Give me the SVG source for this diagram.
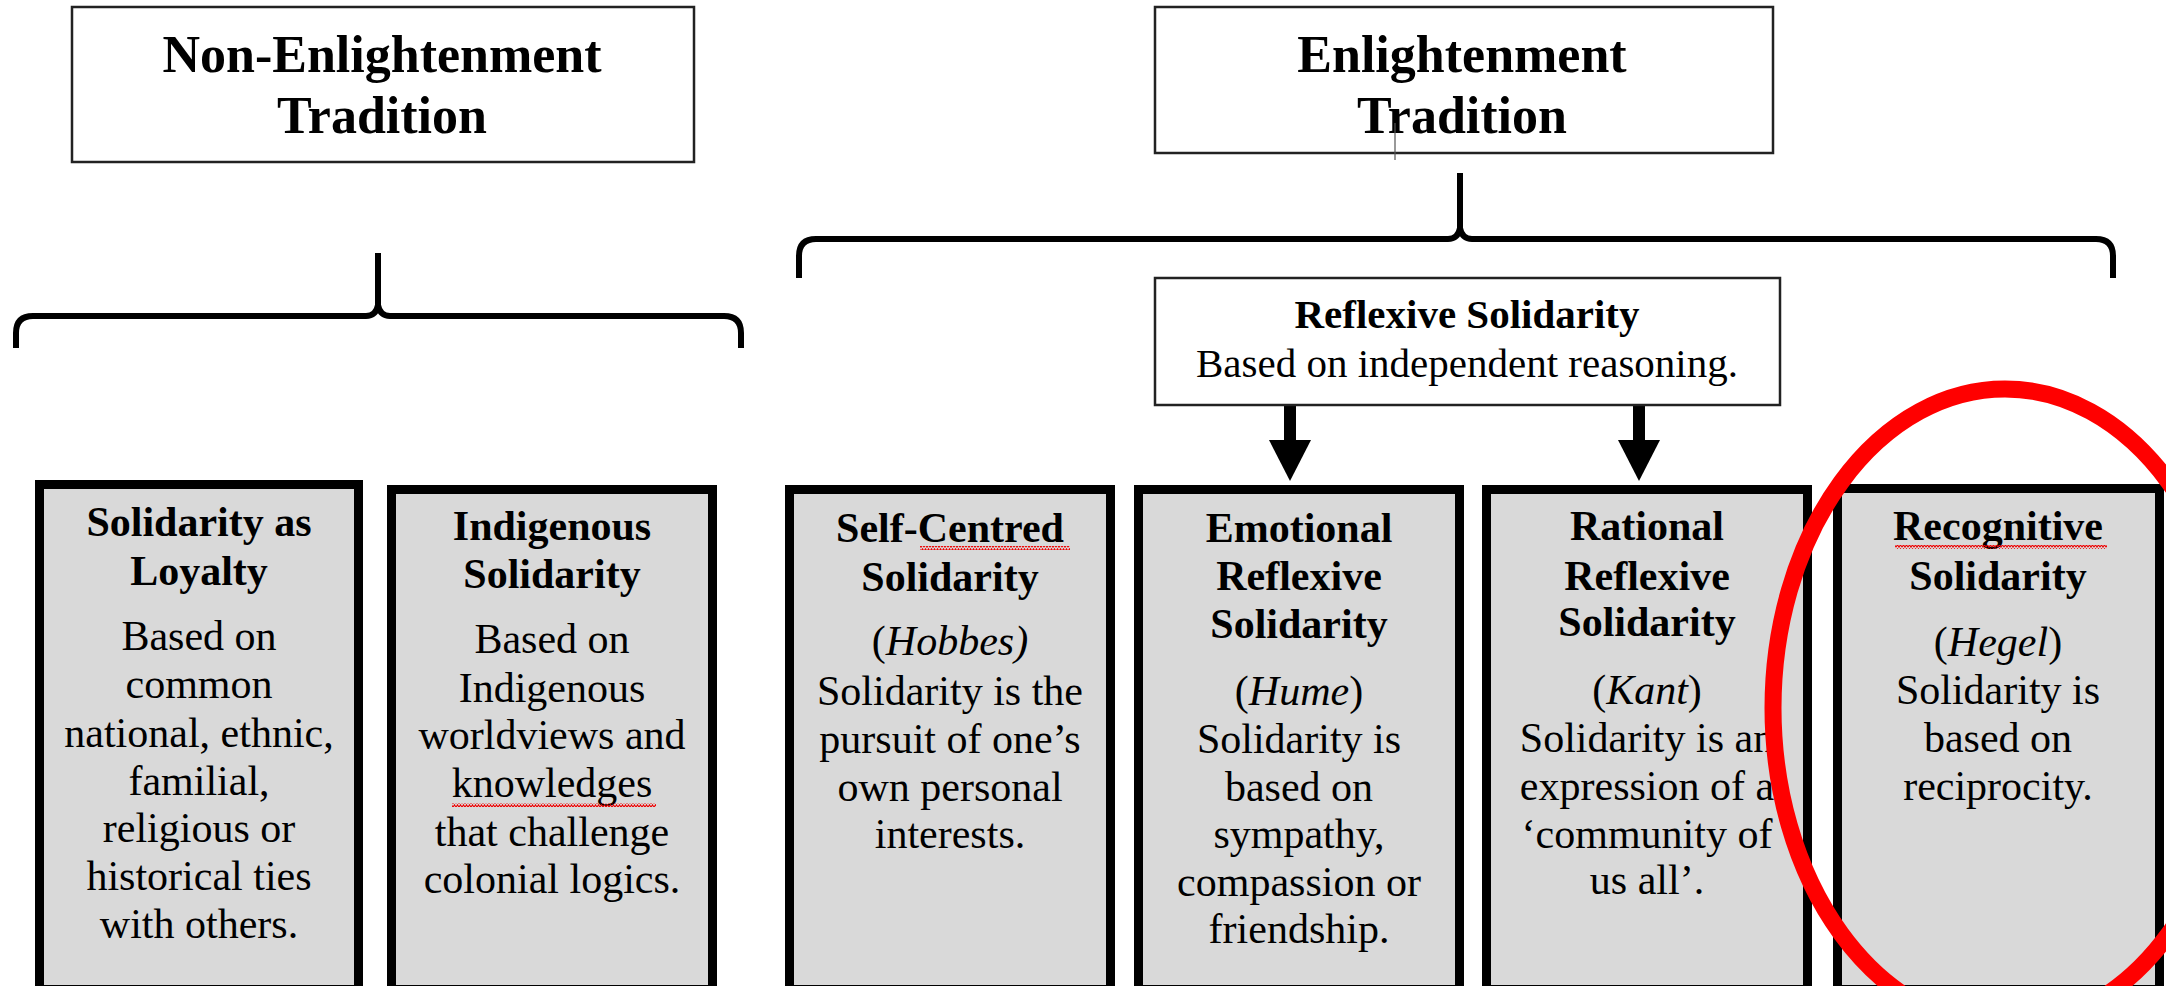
<svg xmlns="http://www.w3.org/2000/svg" width="2166" height="986" viewBox="0 0 2166 986">
<style>
.top{fill:#fff;stroke:#222;stroke-width:2.5}
.card{fill:#d9d9d9;stroke:#000;stroke-width:9}
text{font-family:"Liberation Serif","Times New Roman",serif;fill:#000;text-anchor:middle}
.h1{font-size:52px;font-weight:bold}
.h2{font-size:42px;font-weight:bold}
.b{font-size:42px}
.rb{font-size:41px}
.brace{fill:none;stroke:#000;stroke-width:6;stroke-linejoin:round}
.shaft{stroke:#000;stroke-width:12}
</style>
<defs>
<pattern id="sq" width="6" height="4" patternUnits="userSpaceOnUse">
<path d="M0 3.2 L1.5 0.8 L3 3.2 L4.5 0.8 L6 3.2" fill="none" stroke="#e00" stroke-width="1.1"/>
</pattern>
<marker id="ah" markerWidth="42" markerHeight="40" refX="21" refY="40" orient="auto" markerUnits="userSpaceOnUse" viewBox="0 0 42 40">
<path d="M0 0 L42 0 L21 40 Z" fill="#000"/>
</marker>
</defs>

<g id="connectors">
<path class="brace" d="M16 348 V333 Q16 316 33 316 H366 Q376 316 378 305 Q380 316 390 316 H724 Q741 316 741 333 V348"/>
<path class="brace" d="M378 253 V306" stroke-width="5"/>
<path class="brace" d="M799 278 V256 Q799 239 816 239 H1448 Q1458 239 1460 228 Q1462 239 1472 239 H2096 Q2113 239 2113 256 V278"/>
<path class="brace" d="M1460 173 V229" stroke-width="5"/>
<line class="shaft" x1="1290" y1="405" x2="1290" y2="442"/>
<path d="M1269 440 L1311 440 L1290 481 Z" fill="#000"/>
<line class="shaft" x1="1639" y1="405" x2="1639" y2="442"/>
<path d="M1618 440 L1660 440 L1639 481 Z" fill="#000"/>
</g>

<g id="non-enlightenment">
<rect class="top" x="72" y="7" width="622" height="155"/>
<text class="h1" x="382" y="72">Non-Enlightenment</text>
<text class="h1" x="382" y="133">Tradition</text>
</g>

<g id="enlightenment">
<rect class="top" x="1155" y="7" width="618" height="146"/>
<text class="h1" x="1462" y="72">Enlightenment</text>
<text class="h1" x="1462" y="133">Tradition</text>
<line x1="1395" y1="123" x2="1395" y2="160" stroke="#555" stroke-width="1.2"/>
</g>

<g id="reflexive">
<rect class="top" x="1155" y="278" width="625" height="127"/>
<text class="rb" x="1467" y="328" font-weight="bold">Reflexive Solidarity</text>
<text class="rb" x="1467" y="377">Based on independent reasoning.</text>
</g>

<g id="loyalty">
<rect class="card" x="39.5" y="484.5" width="319" height="505"/>
<text class="h2" x="199" y="536">Solidarity as</text>
<text class="h2" x="199" y="585">Loyalty</text>
<text class="b" x="199" y="650">Based on</text>
<text class="b" x="199" y="698">common</text>
<text class="b" x="199" y="747">national, ethnic,</text>
<text class="b" x="199" y="795">familial,</text>
<text class="b" x="199" y="842">religious or</text>
<text class="b" x="199" y="890">historical ties</text>
<text class="b" x="199" y="938">with others.</text>
</g>

<g id="indigenous">
<rect class="card" x="391.5" y="489.5" width="321" height="500"/>
<text class="h2" x="552" y="540">Indigenous</text>
<text class="h2" x="552" y="588">Solidarity</text>
<text class="b" x="552" y="653">Based on</text>
<text class="b" x="552" y="702">Indigenous</text>
<text class="b" x="552" y="749">worldviews and</text>
<text class="b" x="552" y="797">knowledges</text>
<rect x="452" y="803" width="204" height="4" fill="url(#sq)"/>
<text class="b" x="552" y="846">that challenge</text>
<text class="b" x="552" y="893">colonial logics.</text>
</g>

<g id="self-centred">
<rect class="card" x="789.5" y="489.5" width="321" height="500"/>
<text class="h2" x="950" y="542">Self-Centred</text>
<rect x="920" y="546" width="150" height="4" fill="url(#sq)"/>
<text class="h2" x="950" y="591">Solidarity</text>
<text class="b" x="950" y="655">(<tspan font-style="italic">Hobbes)</tspan></text>
<text class="b" x="950" y="705">Solidarity is the</text>
<text class="b" x="950" y="753">pursuit of one’s</text>
<text class="b" x="950" y="801">own personal</text>
<text class="b" x="950" y="848">interests.</text>
</g>

<g id="emotional">
<rect class="card" x="1138.5" y="489.5" width="321" height="500"/>
<text class="h2" x="1299" y="542">Emotional</text>
<text class="h2" x="1299" y="590">Reflexive</text>
<text class="h2" x="1299" y="638">Solidarity</text>
<text class="b" x="1299" y="705">(<tspan font-style="italic">Hume</tspan>)</text>
<text class="b" x="1299" y="753">Solidarity is</text>
<text class="b" x="1299" y="801">based on</text>
<text class="b" x="1299" y="848">sympathy,</text>
<text class="b" x="1299" y="896">compassion or</text>
<text class="b" x="1299" y="943">friendship.</text>
</g>

<g id="rational">
<rect class="card" x="1486.5" y="489.5" width="321" height="500"/>
<text class="h2" x="1647" y="540">Rational</text>
<text class="h2" x="1647" y="590">Reflexive</text>
<text class="h2" x="1647" y="636">Solidarity</text>
<text class="b" x="1647" y="704">(<tspan font-style="italic">Kant</tspan>)</text>
<text class="b" x="1647" y="752">Solidarity is an</text>
<text class="b" x="1647" y="800">expression of a</text>
<text class="b" x="1647" y="848">‘community of</text>
<text class="b" x="1647" y="894">us all’.</text>
</g>

<g id="recognitive">
<rect class="card" x="1837.5" y="488.5" width="322" height="501"/>
<text class="h2" x="1998" y="540">Recognitive</text>
<rect x="1895" y="545" width="212" height="4" fill="url(#sq)"/>
<text class="h2" x="1998" y="590">Solidarity</text>
<text class="b" x="1998" y="656">(<tspan font-style="italic">Hegel</tspan>)</text>
<text class="b" x="1998" y="704">Solidarity is</text>
<text class="b" x="1998" y="752">based on</text>
<text class="b" x="1998" y="800">reciprocity.</text>
</g>

<g id="highlight">
<ellipse cx="2005" cy="708" rx="232" ry="319" fill="none" stroke="#ff0000" stroke-width="17"/>
</g>
</svg>
